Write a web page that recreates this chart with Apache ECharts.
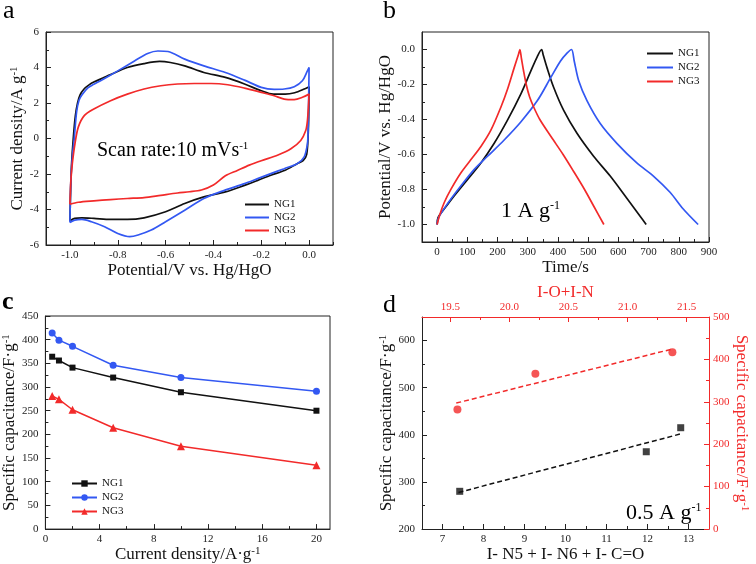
<!DOCTYPE html>
<html><head><meta charset="utf-8">
<script src="https://cdn.jsdelivr.net/npm/echarts@6/dist/echarts.min.js"></script>
<style>html,body{margin:0;padding:0;background:#fff}#c{width:756px;height:564px}</style>
</head><body><div id="c"></div>
<script>
// ---------- Panel a: CV curves (potential V, current density A/g) ----------
const cvNG1 = [[-1.0,-4.64],[-0.997,-2.9],[-0.993,-1.42],[-0.986,0],[-0.977,1.3],[-0.968,2.0],[-0.958,2.45],[-0.94,2.8],[-0.92,3.02],[-0.9,3.18],[-0.86,3.42],[-0.83,3.6],[-0.76,4.0],[-0.69,4.22],[-0.625,4.34],[-0.58,4.28],[-0.52,4.09],[-0.44,3.72],[-0.35,3.44],[-0.27,3.07],[-0.2,2.69],[-0.15,2.5],[-0.1,2.5],[-0.06,2.58],[-0.02,2.79],[0,2.92],
  [-0.003,0.5],[-0.01,-0.9],[-0.025,-1.25],[-0.05,-1.42],[-0.1,-1.79],[-0.16,-2.07],[-0.215,-2.36],[-0.27,-2.64],[-0.35,-3.01],[-0.44,-3.29],[-0.52,-3.66],[-0.6,-4.13],[-0.69,-4.47],[-0.76,-4.56],[-0.83,-4.56],[-0.9,-4.5],[-0.95,-4.47],[-0.98,-4.5],[-1.0,-4.64]];
const cvNG2 = [[-1.0,-4.73],[-0.999,-4.0],[-0.996,-2.36],[-0.99,-1.05],[-0.982,0],[-0.972,1.5],[-0.962,2.15],[-0.95,2.45],[-0.925,2.85],[-0.9,3.05],[-0.87,3.27],[-0.8,3.81],[-0.73,4.37],[-0.675,4.79],[-0.632,4.93],[-0.59,4.9],[-0.52,4.47],[-0.44,4.09],[-0.35,3.72],[-0.27,3.29],[-0.2,2.88],[-0.146,2.77],[-0.104,2.79],[-0.062,2.92],[-0.028,3.25],[-0.007,3.81],[0,4.0],
  [-0.002,2.0],[-0.004,0.5],[-0.007,-0.3],[-0.021,-1.05],[-0.05,-1.42],[-0.104,-1.7],[-0.16,-1.98],[-0.215,-2.26],[-0.27,-2.54],[-0.354,-2.92],[-0.44,-3.38],[-0.52,-4.04],[-0.6,-4.69],[-0.66,-5.16],[-0.715,-5.44],[-0.75,-5.53],[-0.8,-5.35],[-0.855,-4.97],[-0.91,-4.69],[-0.95,-4.56],[-0.98,-4.6],[-1.0,-4.73]];
const cvNG3 = [[-1.0,-3.7],[-0.998,-3.0],[-0.996,-2.36],[-0.99,-1.42],[-0.979,-0.3],[-0.965,0.64],[-0.94,1.29],[-0.9,1.66],[-0.83,2.13],[-0.76,2.5],[-0.69,2.79],[-0.62,2.97],[-0.55,3.07],[-0.48,3.1],[-0.41,3.1],[-0.34,3.03],[-0.27,2.84],[-0.2,2.6],[-0.146,2.41],[-0.104,2.22],[-0.062,2.19],[-0.028,2.32],[0,2.5],
  [-0.003,1.76],[-0.007,1.0],[-0.014,0.45],[-0.035,-0.11],[-0.076,-0.58],[-0.13,-0.93],[-0.2,-1.25],[-0.25,-1.5],[-0.3,-1.8],[-0.35,-2.1],[-0.4,-2.62],[-0.45,-2.9],[-0.5,-3.0],[-0.55,-3.07],[-0.62,-3.2],[-0.69,-3.33],[-0.76,-3.38],[-0.83,-3.44],[-0.9,-3.51],[-0.965,-3.59],[-1.0,-3.7]];

// ---------- Panel b: GCD curves (time s, potential V) ----------
const gcdNG1 = [[0,-1],[3,-0.96],[24,-0.91],[57,-0.835],[101,-0.742],[145,-0.648],[189,-0.536],[233,-0.404],[277,-0.255],[310,-0.124],[332,-0.039],[346,0],[351,-0.03],[364,-0.105],[386,-0.217],[419,-0.348],[463,-0.479],[518,-0.61],[573,-0.723],[628,-0.85],[672,-0.953],[692,-1.0]];
const gcdNG2 = [[0,-1],[5,-0.96],[35,-0.88],[79,-0.779],[123,-0.685],[167,-0.61],[222,-0.517],[277,-0.414],[332,-0.292],[376,-0.161],[408,-0.067],[430,-0.021],[445,0],[454,-0.067],[469,-0.18],[496,-0.292],[540,-0.423],[595,-0.536],[661,-0.648],[716,-0.723],[771,-0.816],[814,-0.91],[864,-1.0]];
const gcdNG3 = [[0,-1],[8,-0.948],[24,-0.873],[46,-0.798],[79,-0.704],[112,-0.629],[145,-0.554],[178,-0.461],[211,-0.33],[233,-0.227],[255,-0.105],[269,-0.03],[274,0],[279,-0.05],[286,-0.12],[295,-0.2],[306,-0.27],[320,-0.33],[340,-0.4],[378,-0.5],[417,-0.6],[453,-0.7],[488,-0.8],[520,-0.9],[552,-1.0]];

// ---------- Panel c: rate capability ----------
const currentDensity = [0.5,1,2,5,10,20];
const capNG1 = [364,356,341,320,289,250];
const capNG2 = [414,399,386,346,320,291];
const capNG3 = [281,274,252,214,175,135];

// ---------- Panel d: correlation ----------
const nContent = [7.42,11.97,12.81];
const capBlack = [280,364,415];
const onContent = [19.56,20.22,21.38];
const capRed = [282,366,417];
const blackFitX = [7.39,12.85];
const blackFitY = [277.5,402.8];
const redFitX = [19.55,21.38];
const redFitY = [297,424.5];

const F = 'Liberation Serif';
const BLK = '#111', BLU = '#3358f2', RED = '#f22a2a', AX = '#222';

function range(a,b,s){const r=[];for(let k=0;a+k*s<=b+1e-9;k++) r.push(+(a+k*s).toFixed(6));return r;}
function nm(main,sup){return sup?`{n|${main}}{s|${sup}}`:`{n|${main}}`;}
function rich(c,fs){return {n:{fontFamily:F,fontSize:fs,color:c},s:{fontFamily:F,fontSize:11,color:c,verticalAlign:'top'}};}

const xAxes=[], yAxes=[];
function addAxis(list,o){
  const c = o.color||AX;
  list.push({type:'value',gridIndex:o.grid,position:o.pos,min:o.min,max:o.max,
    name:o.name||'',nameLocation:'middle',nameGap:o.nameGap||20,nameRotate:o.nameRotate,
    nameTextStyle:{fontFamily:F,fontSize:o.fs||17,color:o.nameColor||BLK,rich:rich(o.nameColor||BLK,o.fs||17)},
    axisLine:{show:true,onZero:false,lineStyle:{color:c,width:1}},
    axisTick:{show:true,inside:true,length:5,customValues:o.majors,lineStyle:{color:c}},
    axisLabel:{show:true,customValues:o.majors,margin:o.margin||5,fontFamily:F,fontSize:11,color:o.labelColor||c,formatter:o.fmt||(v=>String(v))},
    splitLine:{show:false},minorTick:{show:false}});
  const idx=list.length-1;
  list.push({type:'value',gridIndex:o.grid,position:o.pos,min:o.min,max:o.max,
    axisLine:{show:false,onZero:false},
    axisTick:{show:true,inside:true,length:3,customValues:o.minors,lineStyle:{color:c}},
    axisLabel:{show:false},splitLine:{show:false}});
  return idx;
}
const f1 = v=>v.toFixed(1);

const grids = [
  {left:46,top:32,width:287,height:213,show:true,borderColor:AX,borderWidth:1},
  {left:422,top:32,width:287,height:210,show:true,borderColor:AX,borderWidth:1},
  {left:43,top:316,width:287,height:214,show:true,borderColor:AX,borderWidth:1},
  {left:422,top:317,width:287,height:212,show:false}
];

const ax = {};
ax.ax = addAxis(xAxes,{grid:0,pos:'bottom',min:-1.1,max:0.1,majors:range(-1,0,0.2),minors:range(-1.1,0.1,0.2),fmt:f1,name:nm('Potential/V vs. Hg/HgO'),nameGap:16});
ax.ay = addAxis(yAxes,{grid:0,pos:'left',min:-6,max:6,majors:range(-6,6,2),minors:range(-5,5,2),margin:7,name:nm('Current density/A g','-1'),nameGap:18,nameRotate:90});
ax.bx = addAxis(xAxes,{grid:1,pos:'bottom',min:-50,max:900,majors:range(0,900,100),minors:range(50,850,100),name:nm('Time/s'),nameGap:16});
ax.by = addAxis(yAxes,{grid:1,pos:'left',min:-1.1,max:0.1,majors:range(-1,0,0.2),minors:range(-0.9,-0.1,0.2),fmt:f1,margin:7,name:nm('Potential/V vs. Hg/HgO'),nameGap:24,nameRotate:90});
ax.cx = addAxis(xAxes,{grid:2,pos:'bottom',min:0,max:21,majors:range(0,20,4),minors:range(2,18,4),name:nm('Current density/A·g','-1'),nameGap:13});
ax.cy = addAxis(yAxes,{grid:2,pos:'left',min:0,max:450,majors:range(0,450,50),minors:range(25,425,50),margin:7,name:nm('Specific capacitance/F·g','-1'),nameGap:20,nameRotate:90});
ax.dx = addAxis(xAxes,{grid:3,pos:'bottom',min:6.5,max:13.5,majors:range(7,13,1),minors:range(7.5,12.5,1),name:nm('I- N5 + I- N6 + I- C=O'),nameGap:14});
ax.dxt = addAxis(xAxes,{grid:3,pos:'top',min:19.26,max:21.69,majors:range(19.5,21.5,0.5),minors:range(19.75,21.25,0.5),fmt:f1,color:RED,nameColor:RED,margin:4,name:nm('I-O+I-N'),nameGap:13});
ax.dy = addAxis(yAxes,{grid:3,pos:'left',min:200,max:650,majors:range(200,600,100),minors:range(250,550,100),margin:7,name:nm('Specific capacitance/F·g','-1'),nameGap:21,nameRotate:90});
ax.dyr = addAxis(yAxes,{grid:3,pos:'right',min:0,max:500,majors:range(0,500,100),minors:range(50,450,100),color:RED,nameColor:RED,margin:4,name:nm('Specific capacitance/F·g','-1'),nameGap:24,nameRotate:-90});

function cvLine(name,data,color,xi,yi,sm){
  return {type:'line',name,data,xAxisIndex:xi,yAxisIndex:yi,symbol:'none',showSymbol:false,smooth:sm,
    lineStyle:{color,width:1.7},itemStyle:{color},z:3};
}
const series = [
  cvLine('NG1',cvNG1,BLK,ax.ax,ax.ay,0.3),
  cvLine('NG2',cvNG2,BLU,ax.ax,ax.ay,0.3),
  cvLine('NG3',cvNG3,RED,ax.ax,ax.ay,0.3),
  cvLine('NG1 ',gcdNG1,BLK,ax.bx,ax.by,0.3),
  cvLine('NG2 ',gcdNG2,BLU,ax.bx,ax.by,0.3),
  cvLine('NG3 ',gcdNG3,RED,ax.bx,ax.by,0.3),
];
const capSets = [['NG1  ',capNG1,BLK,'rect',6],['NG2  ',capNG2,BLU,'circle',7],['NG3  ',capNG3,RED,'triangle',8]];
capSets.forEach(([n,arr,c,sym,sz])=>{
  series.push({type:'line',name:n,data:currentDensity.map((x,i)=>[x,arr[i]]),xAxisIndex:ax.cx,yAxisIndex:ax.cy,
    symbol:sym,symbolSize:sz,showSymbol:true,lineStyle:{color:c,width:1.5},itemStyle:{color:c}});
});
series.push({type:'line',data:blackFitX.map((x,i)=>[x,blackFitY[i]]),xAxisIndex:ax.dx,yAxisIndex:ax.dy,symbol:'none',lineStyle:{color:BLK,width:1.5,type:[5,3]}});
series.push({type:'line',data:redFitX.map((x,i)=>[x,redFitY[i]]),xAxisIndex:ax.dxt,yAxisIndex:ax.dyr,symbol:'none',lineStyle:{color:RED,width:1.5,type:[5,3]}});
series.push({type:'scatter',data:nContent.map((x,i)=>[x,capBlack[i]]),xAxisIndex:ax.dx,yAxisIndex:ax.dy,symbol:'rect',symbolSize:7,itemStyle:{color:BLK}});
series.push({type:'scatter',data:onContent.map((x,i)=>[x,capRed[i]]),xAxisIndex:ax.dxt,yAxisIndex:ax.dyr,symbol:'circle',symbolSize:8,itemStyle:{color:RED}});

function legend(names,left,top,w,h,gap,icon){
  return {data:names.map(n=>icon?{name:n,icon}:{name:n}),orient:'vertical',left,top,itemWidth:w,itemHeight:h,itemGap:gap,selectedMode:false,
    formatter:n=>n.trim(),textStyle:{fontFamily:F,fontSize:11,color:BLK}};
}
const T = (txt,sup,x,y,fs,extra)=>({type:'text',left:x,top:y,z:10,style:Object.assign({text:sup?`{n|${txt}}{s|${sup}}`:txt,fontFamily:F,fontSize:fs,fill:'#000',
  rich:{n:{fontFamily:F,fontSize:fs,fill:'#000'},s:{fontFamily:F,fontSize:Math.round(fs*0.55),fill:'#000',verticalAlign:'top'}}},extra||{})});

const option = {
  animation:false,
  backgroundColor:'#fff',
  grid:grids,
  xAxis:xAxes,
  yAxis:yAxes,
  legend:[
    legend(['NG1','NG2','NG3'],240,194,24,2,2,'rect'),
    legend(['NG1 ','NG2 ','NG3 '],642,43,26,2,3,'rect'),
    legend(['NG1  ','NG2  ','NG3  '],66,473,25,8,3)
  ],
  series,
  graphic:[
    T('a',null,3,-2,26),
    T('b',null,383,-2,26),
    T('c',null,2,289,26,{fontWeight:'bold'}),
    T('d',null,383,292,26),
    T('Scan rate:10 mVs','-1',97,141,20),
    T('1 A g','-1',501,200,22),
    T('0.5 A g','-1',626,502,22)
  ]
};
echarts.init(document.getElementById('c')).setOption(option);
</script></body></html>
